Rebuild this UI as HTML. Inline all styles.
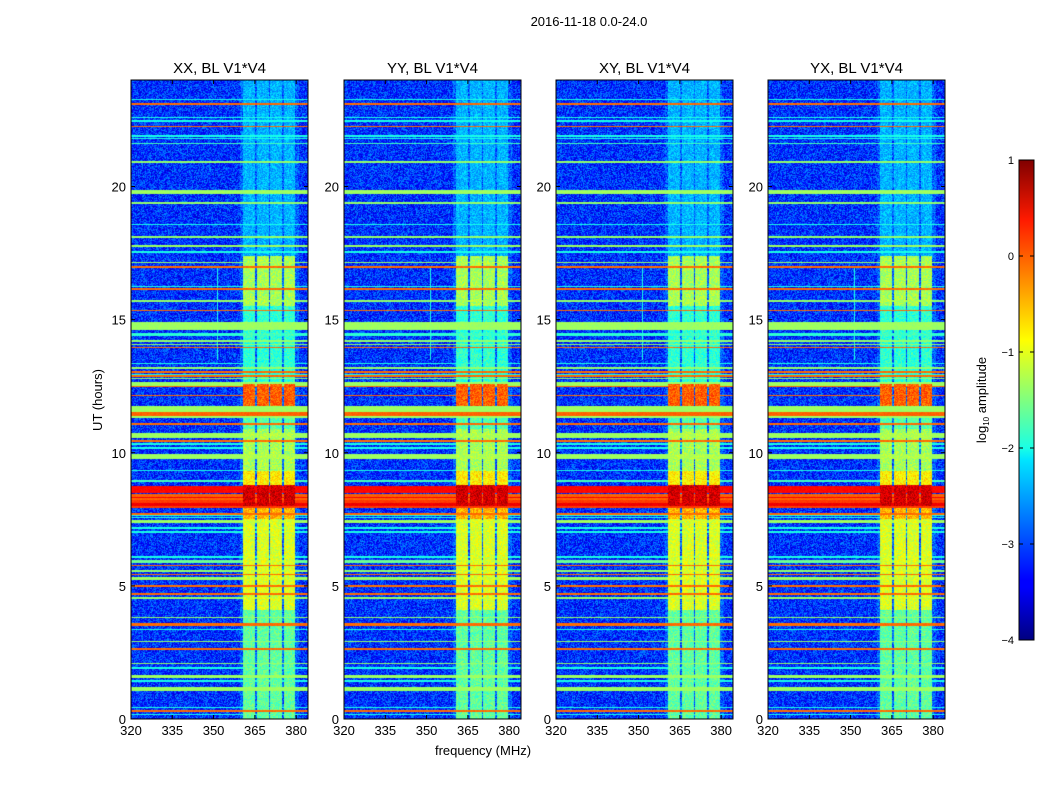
<!DOCTYPE html>
<html><head><meta charset="utf-8">
<style>
body{margin:0;background:#fff;width:1050px;height:800px;overflow:hidden;position:relative;font-family:"Liberation Sans",sans-serif;}
canvas{position:absolute;}
svg{position:absolute;left:0;top:0;}
</style></head>
<body>
<canvas id="p0" width="177" height="639" style="left:131px;top:80px"></canvas>
<canvas id="p1" width="177" height="639" style="left:344px;top:80px"></canvas>
<canvas id="p2" width="177" height="639" style="left:556px;top:80px"></canvas>
<canvas id="p3" width="177" height="639" style="left:768px;top:80px"></canvas>
<svg id="ov" width="1050" height="800">
<defs><linearGradient id="jet" x1="0" y1="1" x2="0" y2="0">
<stop offset="0" stop-color="#000080"/><stop offset="0.11" stop-color="#0000ff"/><stop offset="0.125" stop-color="#0000ff"/>
<stop offset="0.375" stop-color="#00e5ff"/><stop offset="0.4" stop-color="#1affe5"/><stop offset="0.625" stop-color="#ffff00"/>
<stop offset="0.875" stop-color="#ff1a00"/><stop offset="1" stop-color="#800000"/></linearGradient></defs>
<text x="589" y="26" font-size="13" text-anchor="middle">2016-11-18 0.0-24.0</text>
<text x="483" y="755" font-size="13" text-anchor="middle">frequency (MHz)</text>
<text transform="translate(102,400) rotate(-90)" font-size="13" text-anchor="middle">UT (hours)</text>
<rect x="1019" y="160" width="15" height="480" fill="url(#jet)" stroke="#000" stroke-width="1"/>
<text transform="translate(986,400) rotate(-90)" font-size="13" text-anchor="middle">log<tspan font-size="8" dy="3">10</tspan><tspan dy="-3"> amplitude</tspan></text>
<g id="axes"></g>
</svg>
<script>
// data
const panelNames=["XX, BL V1*V4","YY, BL V1*V4","XY, BL V1*V4","YX, BL V1*V4"];
const xTicks=[320,335,350,365,380];
const yTicks=[0,5,10,15,20];
const cbTicks=[1,0,-1,-2,-3,-4];
const bandHour=[23.24,23.06,22.57,22.43,22.22,21.87,21.78,21.58,20.9,19.72,19.36,18.55,18.07,17.74,17.51,17.11,16.95,16.23,16.13,15.67,15.32,14.6,14.4,14.17,14.04,13.92,13.32,13.16,13.0,12.92,12.86,12.77,12.52,12.48,12.13,11.3,11.37,11.05,10.57,10.42,10.3,10.15,9.77,9.31,8.9,8.47,8.23,8.3,7.92,8.0,7.68,7.62,7.55,7.37,7.15,7.0,6.06,5.85,5.74,5.53,5.4,5.22,4.97,4.66,4.52,3.78,3.49,3.34,2.88,2.61,2.05,1.89,1.53,1.4,1.06,0.4,0.27,0.15];
const bandWidth=[.05,.06,.05,.05,.06,.05,.05,.05,.06,.15,.06,.05,.06,.08,.05,.06,.06,.05,.06,.06,.06,.3,.1,.06,.06,.06,.05,.06,.06,.04,.05,.05,.13,.04,.05,.45,.17,.05,.18,.05,.05,.05,.17,.05,.07,.28,.22,.05,.3,.1,.05,.04,.04,.1,.05,.05,.05,.12,.05,.06,.05,.12,.05,.08,.05,.05,.13,.05,.05,.05,.05,.05,.12,.05,.15,.05,.05,.05];
const bandLevel=[-2,-0.15,-2,-2,-0.15,-2,-2,-1.8,-1.4,-1.35,-1.4,-2,-1.4,-1.35,-2,-1.4,-0.15,-2,-0.15,-1.4,-0.15,-1.35,-1.9,-1.4,-1.4,-0.15,-2,-1.4,-0.15,-2,-0.15,-1.4,-1.35,-0.15,-0.15,-1.35,-0.1,-0.15,-1.35,-0.15,-2,-2,-1.35,-2,-1.8,0.35,-0.1,0.4,0.1,0.45,-0.15,-2,-2,-1.35,-2,-2,-2,-1.6,-0.15,-1.4,-0.15,-1.35,-0.15,-0.15,-1.4,-1.4,-0.15,-2,-1.4,-0.15,-1.4,-2,-1.35,-2,-1.35,-2,-0.15,-2];
const chanLo=[360.7,365.6,370.5,375.4];
const chanHi=[365.1,370.0,374.9,379.5];
const segStart=[0,4.1,7.5,8.0,8.8,9.3,10.9,11.75,12.6,13.1,15.5,17.4];
const segEnd=[4.1,7.5,8.0,8.8,9.3,10.9,11.75,12.6,13.1,15.5,17.4,24];
const segLevel=[-1.65,-1.05,-0.5,0.6,-0.8,-1.3,-1.7,-0.1,-1.9,-1.9,-1.3,-2.5];
const W=177,H=639,F0=320,F1=384.3,VMIN=-4,VMAX=1;
function xScale(f){return (f-F0)/(F1-F0)*W;}
function yScale(h){return H-h/24*H;}
function jet(t){t=Math.max(0,Math.min(1,t));
 const c=v=>Math.max(0,Math.min(1,v));
 return [c(Math.min(4*t-1.5,-4*t+4.5)),c(Math.min(4*t-0.5,-4*t+3.5)),c(Math.min(4*t+0.5,-4*t+2.5))];}
function hash(i,j,k){let n=(i*374761393+j*668265263+k*2147483647)|0;n=(n^(n>>>13))*1274126177|0;n=n^(n>>>16);return ((n>>>0)%10000)/10000;}
function drawPanel(p){
 const cv=document.getElementById('p'+p),ctx=cv.getContext('2d');
 const img=ctx.createImageData(W,H),d=img.data;
 const val=new Float32Array(W*H);
 for(let y=0;y<H;y++)for(let x=0;x<W;x++){val[y*W+x]=-3.15+(hash(x,y,p)-0.5)*1.0;}
 for(let c=0;c<chanLo.length;c++){
  const x0=Math.round(xScale(chanLo[c])),x1=Math.round(xScale(chanHi[c]));
  for(let s=0;s<segStart.length;s++){
   const y0=Math.round(yScale(segEnd[s])),y1=Math.round(yScale(segStart[s]));
   for(let y=y0;y<y1;y++)for(let x=x0;x<x1;x++){const v=segLevel[s]+(hash(x,y,p+7)-0.5)*0.6;const k=y*W+x;if(v>val[k])val[k]=v;}
  }
 }
 {const x0=Math.round(xScale(359.5)),x1=Math.round(xScale(381));
  for(let y=0;y<H;y++)for(let x=x0;x<x1;x++){const v=-3.0+(hash(x,y,p+3)-0.5)*1.0;const k=y*W+x;if(v>val[k])val[k]=v;}}
 {const x=Math.round(xScale(351.2));const y0=Math.round(yScale(17)),y1=Math.round(yScale(13.5));
  for(let y=y0;y<y1;y++){const k=y*W+x;val[k]=Math.max(val[k],-2.0);}}
 for(let b=0;b<bandHour.length;b++){
  const y0=Math.round(yScale(bandHour[b]+bandWidth[b])),y1=Math.max(y0+1,Math.round(yScale(bandHour[b])));
  for(let y=y0;y<y1;y++)for(let x=0;x<W;x++){const k=y*W+x;const v=bandLevel[b]+(hash(x,y,p+11)-0.5)*0.15;if(v>val[k])val[k]=v;}
 }
 for(let k=0;k<W*H;k++){const c=jet((val[k]-VMIN)/(VMAX-VMIN));d[k*4]=c[0]*255;d[k*4+1]=c[1]*255;d[k*4+2]=c[2]*255;d[k*4+3]=255;}
 ctx.putImageData(img,0,0);
}
const lefts=[131,344,556,768];
const NS="http://www.w3.org/2000/svg";
const g=document.getElementById('axes');
function mk(tag,attrs){const e=document.createElementNS(NS,tag);for(const a in attrs)e.setAttribute(a,attrs[a]);g.appendChild(e);return e;}
for(let p=0;p<4;p++){
 drawPanel(p);
 const L=lefts[p],T=80;
 const fr=mk('rect',{x:L,y:T,width:W,height:H,fill:'none',stroke:'#000','stroke-width':1});
 
 
 const tt=mk('text',{x:L+W/2,y:73,'font-size':15,'text-anchor':'middle'});tt.textContent=panelNames[p];
 
 
 xTicks.forEach(f=>{const x=L+xScale(f);
  mk('line',{x1:x,x2:x,y1:T+H,y2:T+H-4,stroke:'#000'});mk('line',{x1:x,x2:x,y1:T,y2:T+4,stroke:'#000'});
  const t=mk('text',{x:x,y:T+H+16,'font-size':13,'text-anchor':'middle'});t.textContent=f;
  
  });
 yTicks.forEach(h=>{const y=T+yScale(h);
  mk('line',{x1:L,x2:L+4,y1:y,y2:y,stroke:'#000'});mk('line',{x1:L+W,x2:L+W-4,y1:y,y2:y,stroke:'#000'});
  const t=mk('text',{x:L-5,y:y+5,'font-size':13,'text-anchor':'end'});t.textContent=h;
  
  });
}
cbTicks.forEach(v=>{const y=160+(VMAX-v)/(VMAX-VMIN)*480;
 mk('line',{x1:1019,x2:1023,y1:y,y2:y,stroke:'#000'});mk('line',{x1:1034,x2:1030,y1:y,y2:y,stroke:'#000'});
 const t=mk('text',{x:1014,y:y+4,'font-size':11,'text-anchor':'end'});t.textContent=v<0?'\u2212'+(-v):v;
 
 });
</script>
</body></html>
